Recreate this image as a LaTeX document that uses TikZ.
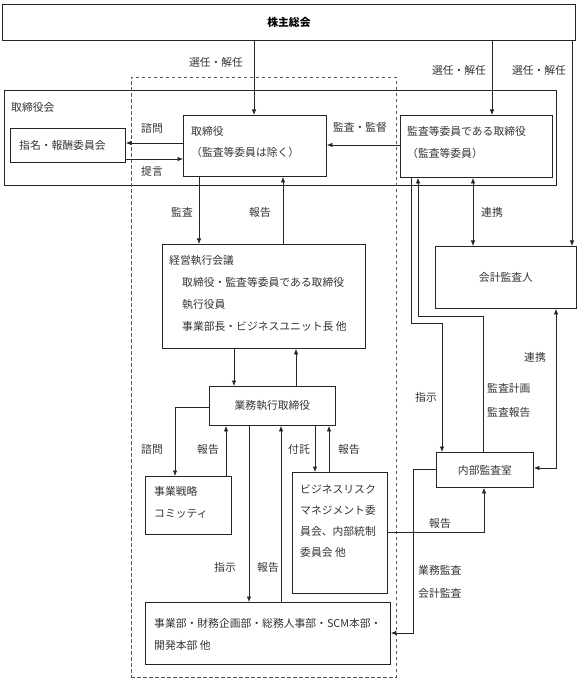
\documentclass[tikz,border=0pt]{standalone}
\usepackage{fontspec}
\setmainfont{Noto Sans CJK JP}
\usetikzlibrary{arrows.meta}
\begin{document}
\begin{tikzpicture}[x=1pt,y=-1pt,
  box/.style={draw=black!85, line width=0.9pt, inner sep=0pt, anchor=north west},
  txt/.style={inner sep=0pt, align=left, anchor=west, text=black!80},
  lbl/.style={inner sep=0pt, text=black!80},
  arr/.style={line width=0.7pt, draw=black!85, -{Latex[length=5.5pt,width=4.5pt]}},
  darr/.style={line width=0.7pt, draw=black!85, {Latex[length=5.5pt,width=4.5pt]}-{Latex[length=5.5pt,width=4.5pt]}},
  font=\fontsize{10.8}{22}\selectfont]
\useasboundingbox (0,0) rectangle (582,684);
% boxes
\node[box, minimum width=573pt, minimum height=36pt, text=black] (kabu) at (2,4) {\bfseries 株主総会};
\node[box, minimum width=552pt, minimum height=95pt] (board) at (4,90) {};
\node[box, draw=black!65, dash pattern=on 3.5pt off 2.5pt, line width=0.9pt, minimum width=265pt, minimum height=600pt] (exec) at (131,77) {};
\node[box, minimum width=115pt, minimum height=34pt] (nom) at (10,128) {};
\node[box, minimum width=143pt, minimum height=61pt] (tori) at (183,115) {};
\node[box, minimum width=152pt, minimum height=62pt] (kansa) at (400,115) {};
\node[box, minimum width=203pt, minimum height=104pt] (keiei) at (162,244) {};
\node[box, minimum width=141pt, minimum height=62pt, text=black!80] (kaikei) at (435,246) {会計監査人};
\node[box, minimum width=126pt, minimum height=39pt, text=black!80] (gyomu) at (209,386) {業務執行取締役};
\node[box, minimum width=86pt, minimum height=58pt] (jigyo) at (145,476) {};
\node[box, minimum width=95pt, minimum height=121pt] (biz) at (292,472) {};
\node[box, minimum width=97pt, minimum height=35pt, text=black!80] (naibu) at (436,452) {内部監査室};
\node[box, minimum width=245pt, minimum height=62pt] (jigyobu) at (145,602) {};
% box texts
\node[txt] (boardt) at (11,107) {取締役会};
\node[txt] (nomt) at (19,145) {指名・報酬委員会};
\node[txt, font=\fontsize{10.8}{21}\selectfont] (torit) at (191,141.5) {取締役\\（監査等委員は除く）};
\node[txt, font=\fontsize{10.8}{22}\selectfont] (kansat) at (407,142) {監査等委員である取締役\\（監査等委員）};
\node[txt, font=\fontsize{10.8}{22}\selectfont] (keieit) at (169,293) {経営執行会議\\\hspace*{13pt}取締役・監査等委員である取締役\\\hspace*{13pt}執行役員\\\hspace*{13pt}事業部長・ビジネスユニット長 他};
\node[txt] (jigyot) at (154,502) {事業戦略\\コミッティ};
\node[txt, font=\fontsize{10.8}{21.3}\selectfont] (bizt) at (300,521) {ビジネスリスク\\マネジメント委\\員会、内部統制\\委員会 他};
\node[txt] (jigyobut) at (154,634) {事業部・財務企画部・総務人事部・SCM本部・\\開発本部 他};
% connectors
\draw[arr] (254,0 |- kabu.south) -- (254,0 |- tori.north);
\draw[arr] (492,0 |- kabu.south) -- (492,0 |- kansa.north);
\draw[arr] (572,0 |- kabu.south) -- (572,0 |- kaikei.north);
\draw[arr] (tori.west |- 0,143) -- (nom.east |- 0,143);
\draw[arr] (nom.east |- 0,159) -- (tori.west |- 0,159);
\draw[arr] (kansa.west |- 0,145) -- (tori.east |- 0,145);
\draw[arr] (199,0 |- tori.south) -- (199,0 |- keiei.north);
\draw[arr] (283,0 |- keiei.north) -- (283,0 |- tori.south);
\draw[darr] (473,0 |- kansa.south) -- (473,0 |- kaikei.north);
\draw[arr] (411,0 |- kansa.south) -- (411,323) -- (442,323) -- (442,0 |- naibu.north);
\draw[arr] (483,0 |- naibu.north) -- (483,316) -- (418,316) -- (418,0 |- kansa.south);
\draw[darr] (556,0 |- kaikei.south) -- (556,468) -- (naibu.east |- 0,468);
\draw[arr] (234,0 |- keiei.south) -- (234,0 |- gyomu.north);
\draw[arr] (296,0 |- gyomu.north) -- (296,0 |- keiei.south);
\draw[arr] (gyomu.west |- 0,407) -- (175,407) -- (175,0 |- jigyo.north);
\draw[arr] (226,0 |- jigyo.north) -- (226,0 |- gyomu.south);
\draw[arr] (249,0 |- gyomu.south) -- (249,0 |- jigyobu.north);
\draw[arr] (281,0 |- jigyobu.north) -- (281,0 |- gyomu.south);
\draw[arr] (315,0 |- gyomu.south) -- (315,0 |- biz.north);
\draw[arr] (329,0 |- biz.north) -- (329,0 |- gyomu.south);
\draw[arr] (biz.east |- 0,532) -- (484,532) -- (484,0 |- naibu.south);
\draw[arr] (naibu.west |- 0,469) -- (413,469) -- (413,633) -- (jigyobu.east |- 0,633);
% labels
\node[lbl] (l1) at (216,62) {選任・解任};
\node[lbl] (l2) at (459,70) {選任・解任};
\node[lbl] (l3) at (539,70) {選任・解任};
\node[lbl] (l4) at (152,128) {諮問};
\node[lbl] (l5) at (152,171) {提言};
\node[lbl] (l6) at (360,127) {監査・監督};
\node[lbl] (l7) at (182,212) {監査};
\node[lbl] (l8) at (260,212) {報告};
\node[lbl] (l9) at (492,212) {連携};
\node[lbl] (l10) at (426,397) {指示};
\node[txt, font=\fontsize{10.8}{24}\selectfont] (l11) at (487,400) {監査計画\\監査報告};
\node[lbl] (l12) at (535,357) {連携};
\node[lbl] (l13) at (152,449) {諮問};
\node[lbl] (l14) at (208,449) {報告};
\node[lbl] (l15) at (299,449) {付託};
\node[lbl] (l16) at (349,449) {報告};
\node[lbl] (l17) at (225,567) {指示};
\node[lbl] (l18) at (268,567) {報告};
\node[lbl] (l19) at (440,523) {報告};
\node[txt, font=\fontsize{10.8}{23}\selectfont] (l20) at (418,581.5) {業務監査\\会計監査};
\end{tikzpicture}
\end{document}
